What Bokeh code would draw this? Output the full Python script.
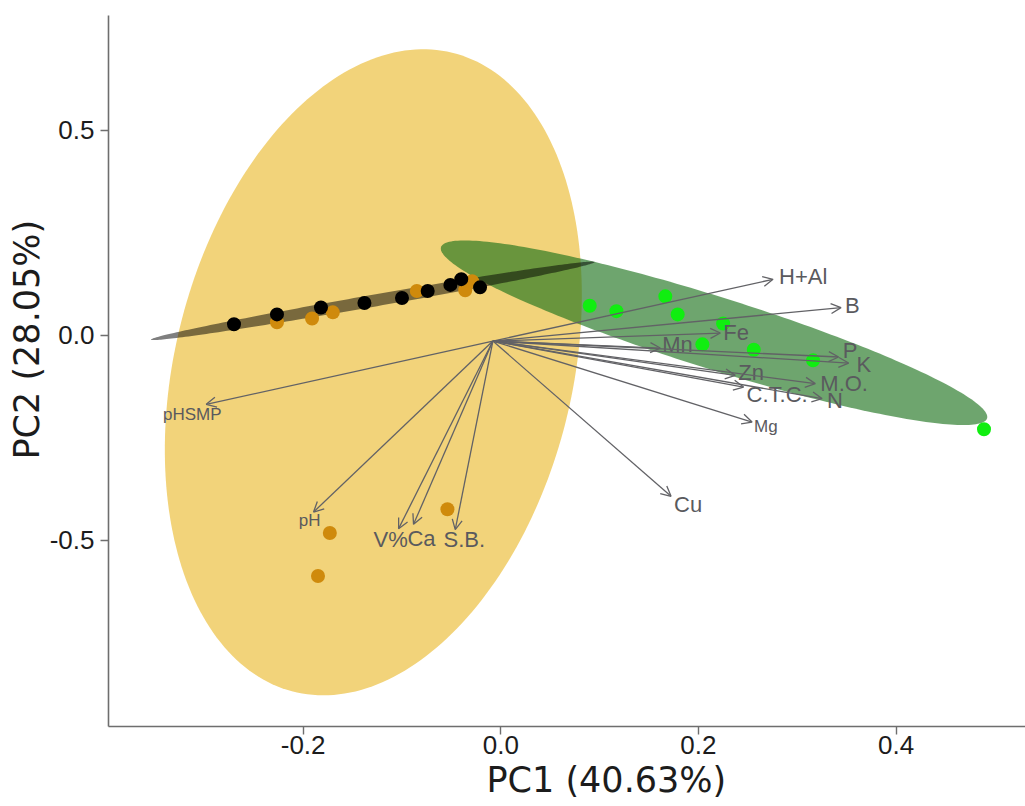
import numpy as np
from bokeh.plotting import figure
from bokeh.models import (ColumnDataSource, Range1d, FixedTicker, NumeralTickFormatter,
                          Arrow, OpenHead, Title)
from bokeh.core.properties import value
from bokeh.embed import file_html
from bokeh.resources import INLINE

# ---- individual scores on PC1 / PC2, one list pair per group ----
gold_pc1 = [-0.2265, -0.191, -0.170, -0.085, -0.036, -0.029, -0.173, -0.185, -0.054]
gold_pc2 = [0.032, 0.041, 0.056, 0.108, 0.110, 0.132, -0.482, -0.587, -0.424]

dark_pc1 = [-0.270, -0.2265, -0.182, -0.138, -0.100, -0.074, -0.051, -0.040, -0.021]
dark_pc2 = [0.027, 0.051, 0.068, 0.079, 0.091, 0.108, 0.123, 0.137, 0.117]

green_pc1 = [0.090, 0.117, 0.1665, 0.179, 0.225, 0.204, 0.256, 0.316, 0.489]
green_pc2 = [0.072, 0.059, 0.095, 0.051, 0.029, -0.022, -0.035, -0.061, -0.229]

# ---- group concentration ellipses: centre, spread on each PC, correlation ----
ell_gold = dict(cx=-0.129, cy=-0.0902, sx=0.2110, sy=0.7878, rho=0.2398)
ell_green = dict(cx=0.2158, cy=0.0063, sx=0.2765, sy=0.2251, rho=-0.912)
ell_dark = dict(cx=-0.1296, cy=0.0841, sx=0.2245, sy=0.0957, rho=0.988)

# ---- soil variables: arrow tips (loadings) ----
variables = ["H+Al", "B", "Fe", "Mn", "P", "K", "Zn", "M.O.", "C.T.C.", "N", "Mg", "Cu",
             "pHSMP", "pH", "V%", "Ca", "S.B."]
load_pc1 = [0.2755, 0.3443, 0.2222, 0.1614, 0.3419, 0.3520, 0.2373, 0.3183, 0.2457, 0.3251,
            0.2543, 0.1723, -0.2981, -0.1895, -0.1034, -0.0883, -0.0461]
load_pc2 = [0.1366, 0.0676, 0.0056, -0.031, -0.0529, -0.0676, -0.0976, -0.1178, -0.1261,
            -0.1544, -0.2115, -0.3927, -0.1683, -0.431, -0.4715, -0.461, -0.4739]
arrow_base = (-0.008, -0.014)

x_ticks = [-0.2, 0.0, 0.2, 0.4]
y_ticks = [-0.5, 0.0, 0.5]
x_title = "PC1 (40.63%)"
y_title = "PC2 (28.05%)"

# ---- label styling (pixel nudges, sizes, alignment) ----
label_dx = [6, 4, 3, 2, 4, 8, 3, 5, 3, 5, 2, 3, -14, -4, -8, 8, 9]
label_dy = [-3, -2, -1, -4, -7, 1, -3, 0, 7, 2, 4, 8, 10, 8, 11, 14, 10]
label_size = ["22px"] * 10 + ["17px", "22px", "17px", "17px", "22px", "22px", "22px"]
label_left = [True] * 12 + [False] * 5

X_LO, X_HI = -0.397, 0.531
Y_LO, Y_HI = -0.954, 0.780

AXIS_GRAY = "#6e6e6e"
ARROW_GRAY = "#626266"
TEXT_GRAY = "#5a5a5e"
INK = "#1c1c1c"


def ellipse_path(e, n=240):
    t = np.linspace(0, 2 * np.pi, n)
    x = e["cx"] + e["sx"] * np.cos(t)
    y = e["cy"] + e["sy"] * (e["rho"] * np.cos(t) + np.sqrt(1 - e["rho"] ** 2) * np.sin(t))
    return x, y


p = figure(width=1025, height=806, x_range=Range1d(X_LO, X_HI), y_range=Range1d(Y_LO, Y_HI),
           output_backend="svg", toolbar_location=None,
           min_border_left=108, min_border_right=0, min_border_top=15, min_border_bottom=80)
p.outline_line_color = None
p.grid.visible = False
p.background_fill_color = "white"
p.border_fill_color = "white"

# ellipses
gx, gy = ellipse_path(ell_gold)
p.patch(gx, gy, fill_color="#F2D37A", fill_alpha=1.0, line_color=None)
ex, ey = ellipse_path(ell_green)
p.patch(ex, ey, fill_color="#197019", fill_alpha=0.63, line_color=None)
dx_, dy_ = ellipse_path(ell_dark)
p.patch(dx_, dy_, fill_color="black", fill_alpha=0.5, line_color=None)

# individuals
p.scatter(gold_pc1, gold_pc2, size=14, fill_color="#CF8A0C", line_color=None)
p.scatter(dark_pc1, dark_pc2, size=14, fill_color="black", line_color=None)
p.scatter(green_pc1, green_pc2, size=14, fill_color="#10EE10", line_color=None)

# variable arrows
n = len(variables)
arrow_src = ColumnDataSource(dict(x0=[arrow_base[0]] * n, y0=[arrow_base[1]] * n,
                                  x1=load_pc1, y1=load_pc2))
p.add_layout(Arrow(end=OpenHead(size=10, line_color=ARROW_GRAY, line_width=1.3),
                   x_start="x0", y_start="y0", x_end="x1", y_end="y1",
                   source=arrow_src, line_color=ARROW_GRAY, line_width=1.3))

# variable labels
for left in (True, False):
    idx = [i for i in range(n) if label_left[i] == left]
    src = ColumnDataSource(dict(
        x=[load_pc1[i] for i in idx], y=[load_pc2[i] for i in idx],
        name=[variables[i] for i in idx], dx=[label_dx[i] for i in idx],
        dy=[label_dy[i] for i in idx], size=[label_size[i] for i in idx]))
    p.text(x="x", y="y", text="name", x_offset="dx", y_offset="dy", source=src,
           text_font=value("Liberation Sans"), text_font_size="size",
           text_color=TEXT_GRAY, text_align="left" if left else "center",
           text_baseline="middle")

# axes
for ax in (p.xaxis[0], p.yaxis[0]):
    ax.axis_line_color = AXIS_GRAY
    ax.axis_line_width = 1.6
    ax.major_tick_line_color = AXIS_GRAY
    ax.major_tick_line_width = 1.4
    ax.major_tick_out = 8
    ax.major_tick_in = 0
    ax.minor_tick_line_color = None
    ax.major_label_text_font = "Liberation Sans"
    ax.major_label_text_font_size = "26px"
    ax.major_label_text_color = INK
    ax.formatter = NumeralTickFormatter(format="0.0")
p.xaxis.ticker = FixedTicker(ticks=x_ticks)
p.yaxis.ticker = FixedTicker(ticks=y_ticks)
p.xaxis.major_label_standoff = 1
p.yaxis.major_label_standoff = 6

# axis titles
p.add_layout(Title(text=x_title, align="left", offset=378, standoff=6,
                   vertical_align="top", text_font="DejaVu Sans",
                   text_font_size="35px", text_font_style="normal",
                   text_color=INK), "below")
p.add_layout(Title(text=y_title, align="left", offset=267, standoff=0,
                   vertical_align="bottom", text_font="DejaVu Sans",
                   text_font_size="35px", text_font_style="normal",
                   text_color=INK), "left")

open("out.html", "w").write(file_html(p, INLINE))
